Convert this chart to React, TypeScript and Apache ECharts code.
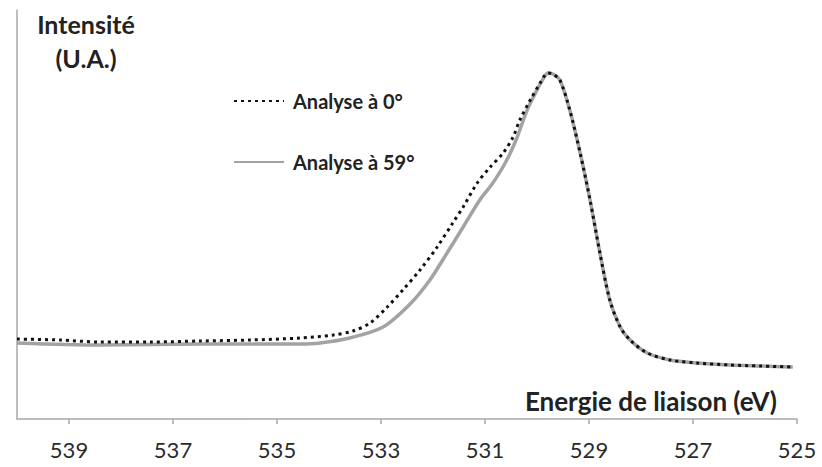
import React, { useEffect, useRef } from "react";
import * as echarts from "echarts";

const seriesNames = ["Analyse à 0°", "Analyse à 59°"];

const energy0 = [540.0, 539.17, 538.4, 537.44, 536.48, 535.52, 534.56, 533.92, 533.54, 533.21, 532.88, 532.58, 532.25, 531.92, 531.62, 531.42, 531.15, 530.9, 530.65, 530.46, 530.33, 530.13, 529.94, 529.86, 529.79, 529.7, 529.56, 529.37, 529.17, 528.98, 528.79, 528.6, 528.4, 528.21, 527.88, 527.44, 526.92, 526.29, 525.71, 525.08];
const intensity0 = [80, 79, 77, 77, 78, 79, 81, 84, 88, 96, 112, 129, 149, 172, 196, 212, 236, 252, 266, 282, 299, 319, 336, 343, 346, 345, 339, 309, 266, 219, 166, 119, 92, 79, 66, 59, 56, 54, 53, 52];

const energy59 = [540.0, 538.4, 536.48, 534.56, 534.17, 533.6, 532.96, 532.44, 532.06, 531.73, 531.42, 531.1, 530.85, 530.58, 530.38, 530.19, 530.0, 529.86, 529.79, 529.7, 529.56, 529.37, 529.17, 528.98, 528.79, 528.6, 528.4, 528.21, 527.88, 527.44, 526.92, 526.29, 525.71, 525.08];
const intensity59 = [76, 74, 75, 75, 76, 81, 92, 115, 139, 166, 192, 219, 236, 259, 282, 309, 329, 342, 346, 345, 339, 309, 266, 219, 166, 119, 92, 79, 66, 59, 56, 54, 53, 52];

const xTicks = [525, 527, 529, 531, 533, 535, 537, 539];

const xTitle = "Energie de liaison (eV)";
const yTitle = ["Intensité", "(U.A.)"];

const FONT = "Lato, 'Noto Sans', sans-serif";

export default function App() {
  const ref = useRef<HTMLDivElement>(null);
  useEffect(() => {
    if (!ref.current) return;
    const chart = echarts.init(ref.current, undefined, { renderer: "svg" });
    const pair = (xs: number[], ys: number[]) => xs.map((x, i) => [x, ys[i]]);
    chart.setOption({
      animation: false,
      backgroundColor: "#ffffff",
      grid: { left: 17, right: 25, top: 10, bottom: 48 },
      xAxis: {
        type: "value",
        min: 525,
        max: 540,
        inverse: true,
        splitLine: { show: false },
        axisLine: { show: true, lineStyle: { color: "#a8a8a8", width: 1.5 } },
        axisTick: { show: true, customValues: xTicks, length: 5, lineStyle: { color: "#a8a8a8", width: 1.5 } },
        axisLabel: {
          customValues: xTicks,
          margin: 19,
          color: "#2a2a2a",
          fontFamily: FONT,
          fontSize: 22,
        },
      },
      yAxis: {
        type: "value",
        min: 0,
        max: 409,
        splitLine: { show: false },
        axisLine: { show: true, lineStyle: { color: "#a8a8a8", width: 1.5 } },
        axisTick: { show: false },
        axisLabel: { show: false },
      },
      legend: {
        orient: "vertical",
        left: 228,
        top: 86,
        itemWidth: 50,
        itemHeight: 20,
        itemGap: 41,
        data: seriesNames,
        itemStyle: { opacity: 0 },
        textStyle: { fontFamily: FONT, fontWeight: "bold", fontSize: 20, lineHeight: 20, color: "#222222", padding: [0, 0, 0, 4] },
      },
      graphic: [
        { type: "text", style: { text: yTitle[0], x: 86, y: 24, textAlign: "center", textVerticalAlign: "middle", fontFamily: FONT, fontWeight: "bold", fontSize: 25, fill: "#222222" } },
        { type: "text", style: { text: yTitle[1], x: 86, y: 58, textAlign: "center", textVerticalAlign: "middle", fontFamily: FONT, fontWeight: "bold", fontSize: 25, fill: "#222222" } },
        { type: "text", style: { text: xTitle, x: 777, y: 401, textAlign: "right", textVerticalAlign: "middle", fontFamily: FONT, fontWeight: "bold", fontSize: 26, fill: "#222222" } },
      ],
      series: [
        {
          name: seriesNames[1],
          type: "line",
          data: pair(energy59, intensity59),
          symbol: "none",
          smooth: 0.3,
          z: 2,
          lineStyle: { color: "#a3a3a3", width: 3.5 },
          itemStyle: { color: "#a3a3a3" },
        },
        {
          name: seriesNames[0],
          type: "line",
          data: pair(energy0, intensity0),
          symbol: "none",
          smooth: 0.3,
          z: 3,
          lineStyle: { color: "#111111", width: 3, type: [3, 4] },
          itemStyle: { color: "#111111" },
        },
      ],
    });
    return () => chart.dispose();
  }, []);
  return <div ref={ref} style={{ position: "fixed", left: 0, top: 0, width: 822, height: 467 }} />;
}
